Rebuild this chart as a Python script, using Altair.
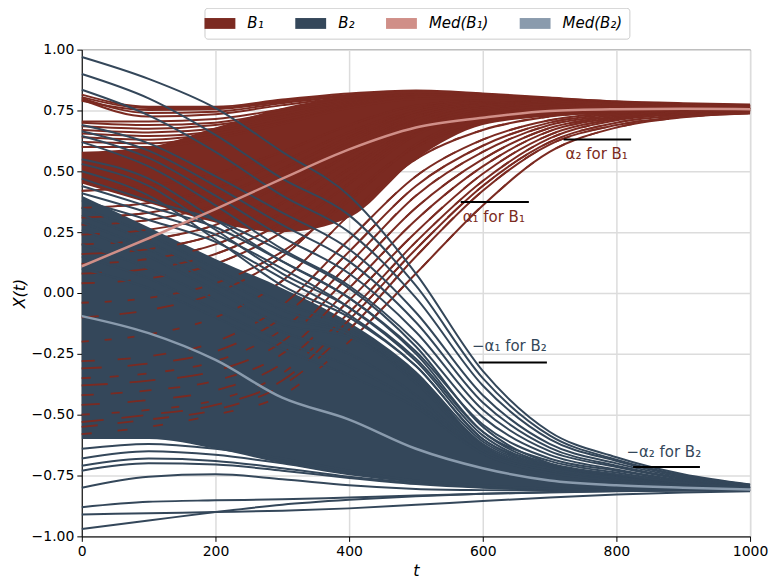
import altair as alt
import pandas as pd

T = [0, 100, 200, 300, 400, 500, 600, 700, 800, 900, 1000]

# ---- B1 trajectories (red) ----
B1_TOP = [
    [0.815, 0.765, 0.765, 0.795, 0.820, 0.832, 0.820, 0.803, 0.788, 0.780, 0.775],
    [0.805, 0.760, 0.760, 0.790, 0.815, 0.828, 0.818, 0.800, 0.786, 0.777, 0.772],
    [0.800, 0.740, 0.745, 0.780, 0.808, 0.822, 0.814, 0.797, 0.783, 0.774, 0.769],
    [0.795, 0.725, 0.735, 0.772, 0.803, 0.820, 0.812, 0.796, 0.782, 0.773, 0.768],
    [0.790, 0.752, 0.755, 0.785, 0.810, 0.825, 0.815, 0.798, 0.784, 0.775, 0.770],
    [0.705, 0.705, 0.715, 0.755, 0.795, 0.818, 0.813, 0.797, 0.783, 0.774, 0.769],
    [0.700, 0.690, 0.700, 0.745, 0.790, 0.815, 0.812, 0.797, 0.783, 0.774, 0.769],
    [0.685, 0.675, 0.690, 0.735, 0.785, 0.812, 0.810, 0.795, 0.782, 0.773, 0.768],
    [0.670, 0.660, 0.675, 0.725, 0.780, 0.810, 0.808, 0.794, 0.781, 0.772, 0.767],
    [0.655, 0.645, 0.665, 0.720, 0.775, 0.807, 0.806, 0.793, 0.780, 0.771, 0.766],
    [0.640, 0.630, 0.655, 0.710, 0.770, 0.805, 0.805, 0.792, 0.780, 0.770, 0.765],
    [0.620, 0.615, 0.645, 0.700, 0.765, 0.800, 0.803, 0.791, 0.779, 0.770, 0.765],
    [0.600, 0.600, 0.635, 0.695, 0.760, 0.797, 0.800, 0.790, 0.778, 0.769, 0.764],
]
B1_MID = [
    [0.420, 0.440, 0.490, 0.580, 0.690, 0.770, 0.790, 0.787, 0.777, 0.768, 0.760],
    [0.350, 0.370, 0.430, 0.540, 0.660, 0.755, 0.785, 0.785, 0.776, 0.767, 0.759],
    [0.310, 0.330, 0.395, 0.510, 0.640, 0.745, 0.782, 0.783, 0.775, 0.766, 0.759],
    [0.280, 0.300, 0.360, 0.480, 0.620, 0.735, 0.778, 0.782, 0.775, 0.766, 0.758],
    [0.240, 0.260, 0.320, 0.445, 0.595, 0.722, 0.774, 0.780, 0.774, 0.765, 0.758],
    [0.200, 0.220, 0.280, 0.410, 0.570, 0.710, 0.770, 0.778, 0.773, 0.765, 0.758],
    [0.160, 0.180, 0.240, 0.370, 0.540, 0.695, 0.762, 0.775, 0.771, 0.764, 0.757],
    [0.120, 0.140, 0.200, 0.330, 0.510, 0.680, 0.755, 0.772, 0.770, 0.763, 0.757],
    [0.080, 0.100, 0.160, 0.290, 0.480, 0.665, 0.748, 0.768, 0.768, 0.762, 0.756],
    [0.040, 0.060, 0.120, 0.250, 0.450, 0.650, 0.740, 0.765, 0.767, 0.762, 0.756],
    [-0.040, -0.020, 0.040, 0.170, 0.380, 0.610, 0.725, 0.758, 0.764, 0.760, 0.755],
]
B1_LOW = [
    [-0.550, -0.520, -0.480, -0.380, -0.150, 0.150, 0.420, 0.610, 0.690, 0.725, 0.738],
    [-0.580, -0.550, -0.500, -0.420, -0.200, 0.080, 0.360, 0.580, 0.680, 0.722, 0.740],
    [-0.530, -0.500, -0.460, -0.360, -0.110, 0.180, 0.440, 0.620, 0.700, 0.730, 0.742],
    [-0.500, -0.480, -0.440, -0.330, -0.080, 0.210, 0.460, 0.635, 0.710, 0.735, 0.745],
    [-0.460, -0.440, -0.400, -0.290, -0.030, 0.250, 0.490, 0.650, 0.715, 0.738, 0.746],
    [-0.420, -0.400, -0.360, -0.250, 0.020, 0.300, 0.520, 0.665, 0.720, 0.740, 0.748],
    [-0.380, -0.360, -0.320, -0.200, 0.070, 0.350, 0.550, 0.678, 0.725, 0.743, 0.749],
    [-0.350, -0.330, -0.280, -0.150, 0.120, 0.400, 0.580, 0.690, 0.730, 0.745, 0.750],
    [-0.310, -0.290, -0.240, -0.100, 0.170, 0.440, 0.605, 0.700, 0.735, 0.746, 0.751],
    [-0.280, -0.260, -0.200, -0.050, 0.220, 0.480, 0.630, 0.710, 0.740, 0.748, 0.752],
    [-0.200, -0.170, -0.100, 0.050, 0.320, 0.550, 0.670, 0.725, 0.745, 0.750, 0.752],
    [-0.100, -0.070, 0.000, 0.150, 0.400, 0.600, 0.700, 0.735, 0.748, 0.752, 0.753],
]
B1_CORE_LO = [0.45, 0.37, 0.29, 0.25, 0.31, 0.55, 0.69, 0.725, 0.738, 0.742, 0.745]
B1_CORE_HI = [0.58, 0.60, 0.68, 0.76, 0.805, 0.815, 0.805, 0.795, 0.782, 0.772, 0.767]

# ---- B2 trajectories (blue) ----
B2_HIGH = [
    [0.970, 0.880, 0.760, 0.580, 0.400, 0.080, -0.320, -0.570, -0.675, -0.745, -0.787],
    [0.900, 0.800, 0.650, 0.470, 0.320, 0.030, -0.350, -0.585, -0.685, -0.750, -0.788],
    [0.835, 0.730, 0.580, 0.400, 0.250, -0.020, -0.380, -0.600, -0.690, -0.752, -0.789],
    [0.690, 0.615, 0.480, 0.330, 0.180, -0.080, -0.420, -0.620, -0.700, -0.757, -0.790],
    [0.665, 0.585, 0.440, 0.280, 0.130, -0.120, -0.450, -0.635, -0.710, -0.762, -0.792],
    [0.645, 0.555, 0.400, 0.230, 0.080, -0.160, -0.480, -0.650, -0.715, -0.765, -0.794],
    [0.620, 0.520, 0.360, 0.180, 0.030, -0.200, -0.510, -0.665, -0.725, -0.770, -0.796],
    [0.550, 0.470, 0.300, 0.130, -0.020, -0.240, -0.540, -0.680, -0.730, -0.773, -0.798],
    [0.530, 0.440, 0.260, 0.080, -0.060, -0.270, -0.570, -0.690, -0.738, -0.777, -0.800],
    [0.500, 0.400, 0.220, 0.030, -0.100, -0.300, -0.600, -0.700, -0.745, -0.780, -0.802],
]
B2_MIX = [
    [0.470, 0.380, 0.300, 0.170, 0.020, -0.220, -0.550, -0.700, -0.748, -0.780, -0.797],
    [0.440, 0.355, 0.270, 0.130, -0.020, -0.250, -0.570, -0.705, -0.750, -0.782, -0.798],
    [0.410, 0.330, 0.240, 0.100, -0.060, -0.280, -0.585, -0.710, -0.752, -0.783, -0.799],
    [0.380, 0.300, 0.210, 0.060, -0.090, -0.300, -0.600, -0.712, -0.754, -0.784, -0.800],
    [0.350, 0.240, 0.100, -0.040, -0.140, -0.330, -0.610, -0.715, -0.756, -0.785, -0.800],
    [0.320, 0.210, 0.070, -0.070, -0.160, -0.350, -0.620, -0.718, -0.758, -0.786, -0.801],
    [0.290, 0.180, 0.040, -0.100, -0.170, -0.360, -0.630, -0.720, -0.760, -0.787, -0.802],
    [0.260, 0.150, 0.010, -0.130, -0.180, -0.370, -0.635, -0.722, -0.760, -0.788, -0.802],
    [0.200, 0.100, -0.030, -0.160, -0.250, -0.420, -0.650, -0.730, -0.765, -0.790, -0.802],
    [0.150, 0.060, -0.070, -0.200, -0.300, -0.450, -0.660, -0.738, -0.768, -0.791, -0.803],
    [0.100, 0.020, -0.100, -0.230, -0.340, -0.470, -0.660, -0.740, -0.770, -0.792, -0.803],
]
B2_LOW = [
    [-0.970, -0.935, -0.900, -0.870, -0.850, -0.835, -0.825, -0.818, -0.814, -0.812, -0.810],
    [-0.910, -0.905, -0.900, -0.895, -0.885, -0.870, -0.855, -0.840, -0.828, -0.820, -0.815],
    [-0.880, -0.858, -0.852, -0.848, -0.840, -0.832, -0.825, -0.820, -0.815, -0.812, -0.810],
    [-0.800, -0.755, -0.745, -0.765, -0.790, -0.805, -0.810, -0.812, -0.812, -0.810, -0.810],
    [-0.730, -0.700, -0.705, -0.730, -0.760, -0.785, -0.800, -0.808, -0.810, -0.810, -0.810],
    [-0.710, -0.680, -0.690, -0.720, -0.755, -0.780, -0.798, -0.806, -0.810, -0.810, -0.810],
    [-0.680, -0.650, -0.665, -0.700, -0.745, -0.775, -0.795, -0.805, -0.808, -0.808, -0.808],
    [-0.640, -0.620, -0.640, -0.680, -0.730, -0.770, -0.790, -0.803, -0.807, -0.808, -0.808],
]
B2_CORE_LO = [-0.60, -0.60, -0.64, -0.70, -0.745, -0.775, -0.795, -0.808, -0.812, -0.814, -0.815]
B2_CORE_HI = [0.40, 0.27, 0.14, 0.02, -0.12, -0.32, -0.62, -0.72, -0.76, -0.785, -0.795]

# ---- medians ----
MED_B1 = [0.110, 0.225, 0.345, 0.470, 0.590, 0.680, 0.720, 0.748, 0.755, 0.757, 0.755]
MED_B2 = [-0.095, -0.165, -0.275, -0.430, -0.520, -0.640, -0.720, -0.770, -0.790, -0.800, -0.807]

LEGEND_LABELS = ["B\u2081", "B\u2082", "Med(B\u2081)", "Med(B\u2082)"]
RED, BLUE, PINK, GREY = "#7b2a21", "#34475a", "#d08f88", "#8a9bad"
COLORS = [RED, BLUE, PINK, GREY]

# ---- annotations ----
ANN_TEXT = ["\u03b1\u2082 for B\u2081", "\u03b1\u2081 for B\u2081",
            "\u2212\u03b1\u2081 for B\u2082", "\u2212\u03b1\u2082 for B\u2082"]
ANN_T = [724, 570, 584, 815]
ANN_V = [0.549, 0.290, -0.238, -0.672]
ANN_GRP = ["B1", "B1", "B2", "B2"]
SEG_T1 = [721, 567, 594, 825]
SEG_T2 = [822, 669, 696, 925]
SEG_V = [0.631, 0.374, -0.286, -0.715]

FONT = "DejaVu Sans"
# broken-line styles used to show red pieces peeking through the blue bundle
FRAG_DASHES = [[16, 20], [10, 26], [22, 18], [8, 22], [18, 28], [12, 17],
               [26, 22], [9, 19], [20, 26], [13, 23], [7, 16], [17, 21]]


def curves_df(curves, prefix):
    rows = []
    for i, c in enumerate(curves):
        for t, v in zip(T, c):
            rows.append({"t": t, "v": v, "id": f"{prefix}{i:02d}"})
    return pd.DataFrame(rows)


b1_lines = curves_df(B1_LOW + B1_MID + B1_TOP, "r")
b1_frag = curves_df(B1_LOW + B1_MID, "f")
frag_ids = sorted(b1_frag["id"].unique())
frag_range = [FRAG_DASHES[i % len(FRAG_DASHES)] for i in range(len(frag_ids))]
b2_lines = curves_df(B2_LOW + B2_MIX + B2_HIGH, "b")
b1_core = pd.DataFrame({"t": T, "lo": B1_CORE_LO, "hi": B1_CORE_HI})
b2_core = pd.DataFrame({"t": T, "lo": B2_CORE_LO, "hi": B2_CORE_HI})
med = pd.DataFrame({"t": T, "m1": MED_B1, "m2": MED_B2})
ann = pd.DataFrame({"t": ANN_T, "v": ANN_V, "text": ANN_TEXT, "grp": ANN_GRP})
seg = pd.DataFrame({"t1": SEG_T1, "t2": SEG_T2, "v": SEG_V})
leg = pd.DataFrame({"series": LEGEND_LABELS})

xscale = alt.Scale(domain=[0, 1000], nice=False, zero=False)
yscale = alt.Scale(domain=[-1, 1], nice=False, zero=False)
xaxis = alt.Axis(values=[0, 200, 400, 600, 800, 1000], format="d", title="t", labelFlush=False)
yaxis = alt.Axis(values=[-1, -0.75, -0.5, -0.25, 0, 0.25, 0.5, 0.75, 1], format=".2f",
                 title="X(t)", labelFlush=False)

X = lambda f: alt.X(f, type="quantitative", scale=xscale, axis=xaxis)
Y = lambda f: alt.Y(f, type="quantitative", scale=yscale, axis=yaxis)

legend_layer = alt.Chart(leg).mark_rect().encode(
    x=alt.value(0), x2=alt.value(0), y=alt.value(0), y2=alt.value(0),
    color=alt.Color("series:N", scale=alt.Scale(domain=LEGEND_LABELS, range=COLORS),
                    legend=alt.Legend(
                        title=None, orient="none", legendX=123, legendY=-42,
                        direction="horizontal", columns=4,
                        symbolType="M-1.82,-0.64H1.82V0.64H-1.82Z", symbolSize=289,
                        symbolStrokeWidth=0, labelOffset=19, columnPadding=31,
                        labelFont=FONT, labelFontSize=15, labelFontStyle="italic",
                        labelColor="black", padding=7, strokeColor="#cccccc",
                        fillColor="white", cornerRadius=3)),
)

r_area = alt.Chart(b1_core).mark_area(color=RED, interpolate="monotone").encode(
    x=X("t"), y=Y("lo"), y2="hi")
r_lines = alt.Chart(b1_lines).mark_line(color=RED, strokeWidth=2, interpolate="monotone").encode(
    x=X("t"), y=Y("v"), detail="id:N")
b_area = alt.Chart(b2_core).mark_area(color=BLUE, interpolate="monotone").encode(
    x=X("t"), y=Y("lo"), y2="hi")
r_frag = alt.Chart(b1_frag).mark_line(color=RED, strokeWidth=1.8, interpolate="monotone").encode(
    x=X("t"), y=Y("v"), detail="id:N",
    strokeDash=alt.StrokeDash("id:N", scale=alt.Scale(domain=frag_ids, range=frag_range),
                              legend=None))
b_lines = alt.Chart(b2_lines).mark_line(color=BLUE, strokeWidth=2, interpolate="monotone").encode(
    x=X("t"), y=Y("v"), detail="id:N")
m1 = alt.Chart(med).mark_line(color=PINK, strokeWidth=2.5, interpolate="monotone").encode(
    x=X("t"), y=Y("m1"))
m2 = alt.Chart(med).mark_line(color=GREY, strokeWidth=2.5, interpolate="monotone").encode(
    x=X("t"), y=Y("m2"))
segs = alt.Chart(seg).mark_rule(color="black", strokeWidth=2).encode(
    x=X("t1"), x2="t2", y=Y("v"))
txt_r = alt.Chart(ann[ann.grp == "B1"]).mark_text(
    color=RED, font=FONT, fontSize=15, align="left", baseline="alphabetic").encode(
    x=X("t"), y=Y("v"), text="text:N")
txt_b = alt.Chart(ann[ann.grp == "B2"]).mark_text(
    color=BLUE, font=FONT, fontSize=15, align="left", baseline="alphabetic").encode(
    x=X("t"), y=Y("v"), text="text:N")

chart = alt.layer(
    legend_layer, r_area, r_lines, b_area, r_frag, b_lines, m1, m2, segs, txt_r, txt_b
).properties(
    width=670, height=488,
    autosize=alt.AutoSizeParams(type="none"),
    padding={"left": 74, "top": 41, "right": 20, "bottom": 42},
).configure_view(
    stroke="black", strokeWidth=1
).configure_axis(
    grid=True, gridColor="#dcdcdc", gridWidth=1.5,
    domainColor="black", domainWidth=1, tickColor="black", tickSize=5, tickWidth=1,
    labelFont=FONT, labelFontSize=14, labelColor="black", labelPadding=3,
    titleFont=FONT, titleFontSize=16, titleFontWeight="normal", titleFontStyle="italic",
    titleColor="black", titlePadding=4,
)

chart.save("out.html", embed_options={"renderer": "svg", "actions": False})
